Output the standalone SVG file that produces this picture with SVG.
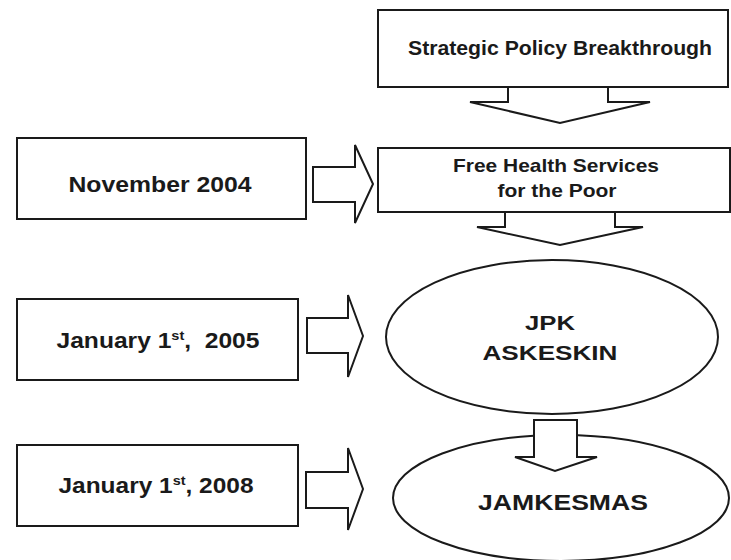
<svg xmlns="http://www.w3.org/2000/svg" width="731" height="560" viewBox="0 0 731 560">
<style>
.box{fill:#fff;stroke:#1a1a1a;stroke-width:2}
.arr{fill:#fff;stroke:#1a1a1a;stroke-width:2;stroke-linejoin:miter}
.t{font-family:"Liberation Sans",Arial,sans-serif;font-weight:bold;fill:#1a1a1a;text-anchor:middle}
</style>
<rect x="0" y="0" width="731" height="560" fill="#fff"/>
<g id="connectors">
<polygon class="arr" points="508,80 608,80 608,102 650,102 560,123 470,102 508,102"/>
<polygon class="arr" points="505,205 615,205 615,227 643,227 560,245 477,227 505,227"/>
<polygon class="arr" points="313,167 355,167 355,145 373,184 355,223 355,202 313,202"/>
<polygon class="arr" points="307,318 348,318 348,295 363,336 348,377 348,353 307,353"/>
<polygon class="arr" points="306,472 348,472 348,448 363,489 348,530 348,508 306,508"/>
</g>
<g id="strategic">
<rect class="box" x="378" y="10" width="350" height="77"/>
<text class="t" x="560" y="55" font-size="20" textLength="304" lengthAdjust="spacingAndGlyphs">Strategic Policy Breakthrough</text>
</g>
<g id="free-health">
<rect class="box" x="378" y="148" width="352" height="64"/>
<text class="t" x="556" y="172" font-size="19" textLength="206" lengthAdjust="spacingAndGlyphs">Free Health Services</text>
<text class="t" x="557" y="197" font-size="19" textLength="119" lengthAdjust="spacingAndGlyphs">for the Poor</text>
</g>
<g id="nov2004">
<rect class="box" x="17" y="138" width="289" height="81"/>
<text class="t" x="160" y="192" font-size="22" textLength="183" lengthAdjust="spacingAndGlyphs">November 2004</text>
</g>
<g id="jan2005">
<rect class="box" x="17" y="299" width="281" height="81"/>
<text class="t" x="158" y="348" font-size="22" textLength="203" lengthAdjust="spacingAndGlyphs" xml:space="preserve">January 1<tspan font-size="13" dy="-8">st</tspan><tspan dy="8">,  2005</tspan></text>
</g>
<g id="jan2008">
<rect class="box" x="17" y="445" width="281" height="81"/>
<text class="t" x="156" y="493" font-size="22" textLength="195" lengthAdjust="spacingAndGlyphs">January 1<tspan font-size="13" dy="-8">st</tspan><tspan dy="8">, 2008</tspan></text>
</g>
<g id="jpk-askeskin">
<ellipse class="box" cx="552" cy="337" rx="166" ry="77"/>
<text class="t" x="550" y="330" font-size="21" textLength="50" lengthAdjust="spacingAndGlyphs">JPK</text>
<text class="t" x="550" y="360" font-size="21" textLength="135" lengthAdjust="spacingAndGlyphs">ASKESKIN</text>
</g>
<g id="jamkesmas">
<ellipse class="box" cx="561" cy="498" rx="168" ry="63"/>
<text class="t" x="563" y="510" font-size="22" textLength="170" lengthAdjust="spacingAndGlyphs">JAMKESMAS</text>
</g>
<g id="connector-jpk-jamkesmas">
<polygon class="arr" points="534,420 577,420 577,457 597,457 555,471 515,457 534,457"/>
</g>
</svg>
